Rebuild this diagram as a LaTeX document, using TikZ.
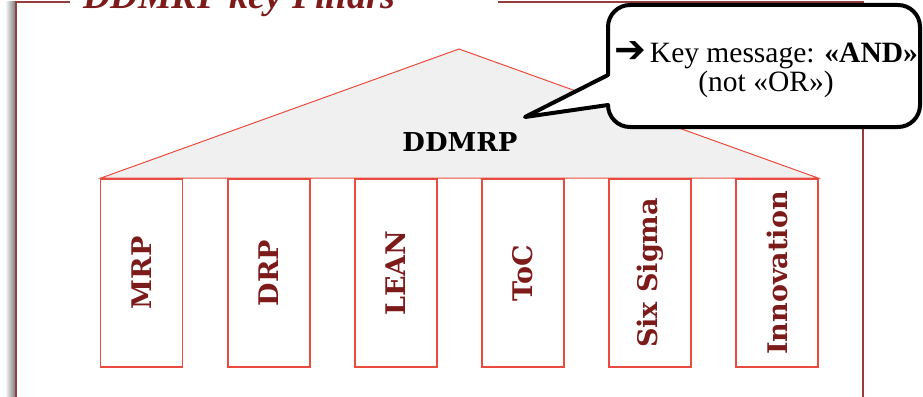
\documentclass[tikz,border=0pt]{standalone}
\usepackage{fontspec}
\setmainfont{Liberation Serif}
\newfontfamily\pillarfont{DejaVu Serif}
\newfontfamily\arrowfont{DejaVu Sans}
\definecolor{maroon}{RGB}{125,26,26}
\definecolor{framered}{RGB}{150,62,62}
\definecolor{pillarred}{RGB}{235,75,62}
\definecolor{roofgray}{RGB}{240,240,240}
\tikzset{
  frameline/.style={draw=framered, line width=1.6pt},
  roofshape/.style={fill=roofgray, draw=pillarred, line width=1pt},
  pillarbox/.style={draw=pillarred, line width=1.3pt, fill=white,
    minimum width=82pt, minimum height=188pt, inner sep=0pt},
  pillartext/.style={rotate=90, text=maroon, font=\pillarfont\fontsize{27}{32}\selectfont\bfseries},
  calloutshape/.style={draw=black, fill=white, line width=4pt, line join=round},
  callouttext/.style={font=\fontsize{29.5}{33}\selectfont, anchor=base},
}
\begin{document}
\begin{tikzpicture}[x=1pt, y=-1pt]
\useasboundingbox (0,0) rectangle (923,396);
\clip (0,0) rectangle (923,396);

% frame with its soft left shadow
\shade[left color=white, right color=black!50] (5,2) rectangle (15,400);
\draw[frameline] (70,2) -- (16,2) -- (16,400);
\draw[frameline] (498,2) -- (863,2) -- (863,400);
\node[anchor=base west, inner sep=0pt, text=maroon,
      font=\fontsize{38}{40}\selectfont\bfseries\itshape] (title) at (83,9) {DDMRP key Pillars};

% roof
\coordinate (roofL) at (101,178);
\coordinate (roofT) at (459,49);
\coordinate (roofR) at (818,178);
\filldraw[roofshape] (roofL) -- (roofT) -- (roofR) -- cycle;
\node[anchor=base, inner sep=0pt, font=\pillarfont\fontsize{26}{30}\selectfont\bfseries] (ddmrp) at (460,151) {DDMRP};

% pillars
\foreach \name/\cx/\txt in {mrp/141.5/MRP, drp/269/DRP, lean/396/LEAN, toc/523/ToC,
                             sixsigma/650/Six Sigma, innovation/777/Innovation}{
  \node[pillarbox] (\name) at (\cx,273) {};
  \node[pillartext] (\name-label) at (\name) {\txt};
}

% callout bubble
\coordinate (tailtop) at (608,75);
\coordinate (tailbot) at (608,105);
\coordinate (tip) at (525,117);
\draw[calloutshape] (tailtop) [rounded corners=22pt] -- (608,5) -- (920,5) -- (920,127) -- (608,127)
   [sharp corners] -- (tailbot) -- (tip) -- cycle;
\node[callouttext] (msg1) at (766,63)
  {{\arrowfont\bfseries\fontsize{38}{40}\selectfont ➔}\hspace{4pt}Key message: \textbf{«AND»}};
\node[callouttext] (msg2) at (766,92) {(not «OR»)};
\end{tikzpicture}
\end{document}
